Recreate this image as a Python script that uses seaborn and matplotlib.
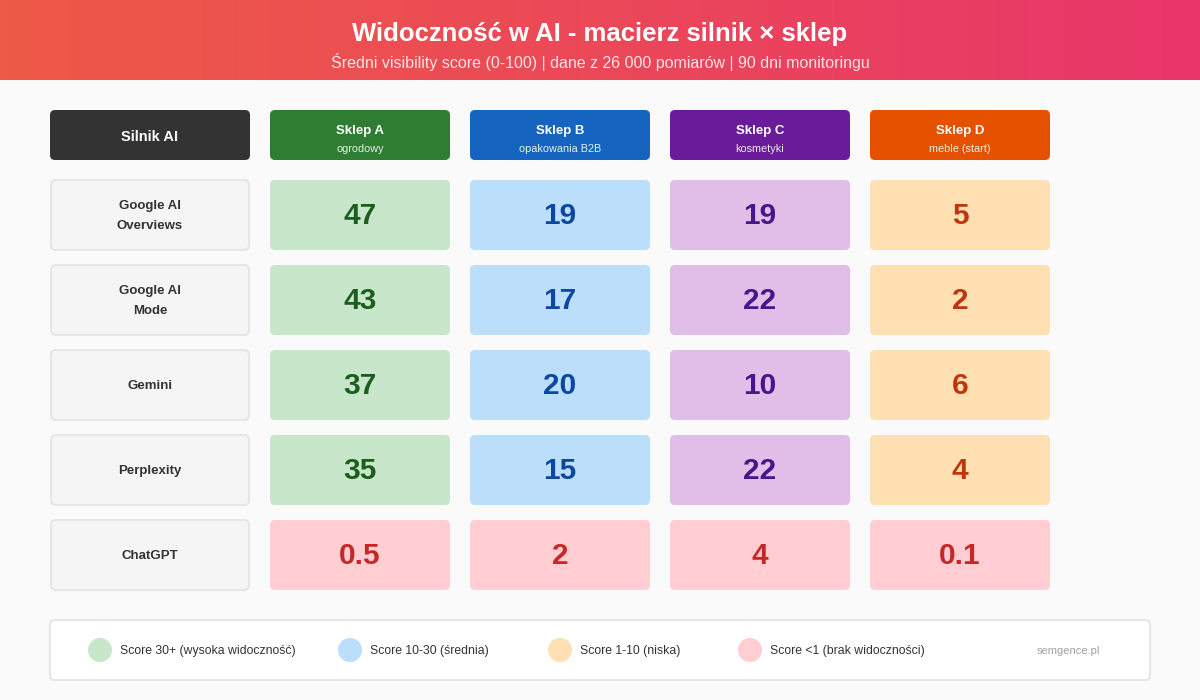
import matplotlib
matplotlib.use('Agg')
import matplotlib.pyplot as plt
from matplotlib.patches import FancyBboxPatch
import numpy as np
import pandas as pd
import seaborn as sns

# dane
silniki = ['Google AI\nOverviews', 'Google AI\nMode', 'Gemini', 'Perplexity', 'ChatGPT']
sklepy = ['Sklep A', 'Sklep B', 'Sklep C', 'Sklep D']
branze = ['ogrodowy', 'opakowania B2B', 'kosmetyki', 'meble (start)']
sklep_a = [47, 43, 37, 35, 0.5]
sklep_b = [19, 17, 20, 15, 2]
sklep_c = [19, 22, 10, 22, 4]
sklep_d = [5, 2, 6, 4, 0.1]
legenda = ['Score 30+ (wysoka widoczność)', 'Score 10-30 (średnia)',
           'Score 1-10 (niska)', 'Score <1 (brak widoczności)']

wyniki = pd.DataFrame({'Sklep A': sklep_a, 'Sklep B': sklep_b,
                       'Sklep C': sklep_c, 'Sklep D': sklep_d}, index=silniki)

# kolory
kol_naglowek = ['#2e7d32', '#1565c0', '#6a1b9a', '#e65100']
kol_tlo = ['#c8e6c9', '#bbdefb', '#e1bee7', '#ffe0b2']
kol_tekst = ['#1b5e20', '#0d47a1', '#4a148c', '#bf360c']
kol_brak_tlo = '#ffcdd2'
kol_brak_tekst = '#c62828'
kol_legenda = ['#c8e6c9', '#bbdefb', '#ffe0b2', '#ffcdd2']

sns.set_theme(style='white')
plt.rcParams['font.family'] = ['Liberation Sans', 'DejaVu Sans']

H = 700
fig = plt.figure(figsize=(12, 7), dpi=100)
fig.patch.set_facecolor('#fafafa')
ax = fig.add_axes([0, 0, 1, 1])
ax.set_xlim(0, 1200)
ax.set_ylim(0, H)
ax.axis('off')


def Y(y):
    # pozycja liczona od gory obrazka
    return H - y


def box(x, y, w, h, fc, ec='none', lw=0):
    ax.add_patch(FancyBboxPatch((x, Y(y + h)), w, h, boxstyle='round,pad=0,rounding_size=5',
                                fc=fc, ec=ec, lw=lw, zorder=2))


# naglowek z gradientem
grad = np.linspace(0, 1, 256).reshape(1, -1)
cmap = matplotlib.colors.LinearSegmentedColormap.from_list('hdr', ['#ee5a47', '#e8366a'])
ax.imshow(grad, extent=[0, 1200, Y(80), Y(0)], cmap=cmap, aspect='auto', zorder=0)
ax.text(600, Y(34), 'Widoczność w AI - macierz silnik × sklep', ha='center', va='center',
        color='white', fontsize=18.5, fontweight='bold')
ax.text(600, Y(62), 'Średni visibility score (0-100) | dane z 26 000 pomiarów | 90 dni monitoringu',
        ha='center', va='center', color='#fde4e4', fontsize=11.5)

# siatka
x0, lab_w, col_w, col_gap = 50, 200, 180, 20
hdr_y, hdr_h = 110, 50
row_y0, row_h, row_step = 180, 70, 85

box(x0, hdr_y, lab_w, hdr_h, '#333333')
ax.text(x0 + lab_w / 2, Y(hdr_y + hdr_h / 2 + 2), 'Silnik AI', ha='center', va='center',
        color='white', fontsize=10.5, fontweight='bold', zorder=3)

for j, (sklep, branza) in enumerate(zip(sklepy, branze)):
    cx = x0 + lab_w + col_gap + j * (col_w + col_gap)
    box(cx, hdr_y, col_w, hdr_h, kol_naglowek[j])
    ax.text(cx + col_w / 2, Y(hdr_y + 21), sklep, ha='center', va='center', color='white',
            fontsize=9.5, fontweight='bold', zorder=3)
    ax.text(cx + col_w / 2, Y(hdr_y + 39), branza, ha='center', va='center', color='#e8f0e8',
            fontsize=7.8, zorder=3)

for i, silnik in enumerate(wyniki.index):
    ry = row_y0 + i * row_step
    box(x0 + 1, ry, lab_w - 2, row_h, '#f5f5f5', ec='#e6e6e6', lw=1.5)
    ax.text(x0 + lab_w / 2, Y(ry + row_h / 2 + 1), silnik, ha='center', va='center',
            color='#333333', fontsize=9.5, fontweight='bold', linespacing=1.9, zorder=3)
    ostatni = silnik == 'ChatGPT'
    for j, sklep in enumerate(wyniki.columns):
        cx = x0 + lab_w + col_gap + j * (col_w + col_gap)
        v = wyniki.loc[silnik, sklep]
        box(cx, ry, col_w, row_h, kol_brak_tlo if ostatni else kol_tlo[j])
        ax.text(cx + col_w / 2, Y(ry + row_h / 2 - 2), f'{v:g}', ha='center',
                va='center_baseline',
                color=kol_brak_tekst if ostatni else kol_tekst[j],
                fontsize=21.5, fontweight='bold', zorder=3)

# legenda
box(50, 620, 1100, 60, 'white', ec='#e6e6e6', lw=1.5)
leg_x = [100, 350, 560, 750]
leg_df = pd.DataFrame({'x': leg_x, 'y': [Y(650)] * 4, 'kat': legenda})
sns.scatterplot(data=leg_df, x='x', y='y', hue='kat', palette=kol_legenda, s=300,
                edgecolor='none', legend=False, ax=ax, zorder=4)
for x, t in zip(leg_x, legenda):
    ax.text(x + 20, Y(651), t, ha='left', va='center', color='#333333', fontsize=8.8, zorder=4)
ax.text(1100, Y(651), 'semgence.pl', ha='right', va='center', color='#a0a0a0', fontsize=8, zorder=4)
ax.set_xlim(0, 1200)
ax.set_ylim(0, H)
ax.axis('off')

fig.savefig('out.png', dpi=100, facecolor=fig.get_facecolor())
